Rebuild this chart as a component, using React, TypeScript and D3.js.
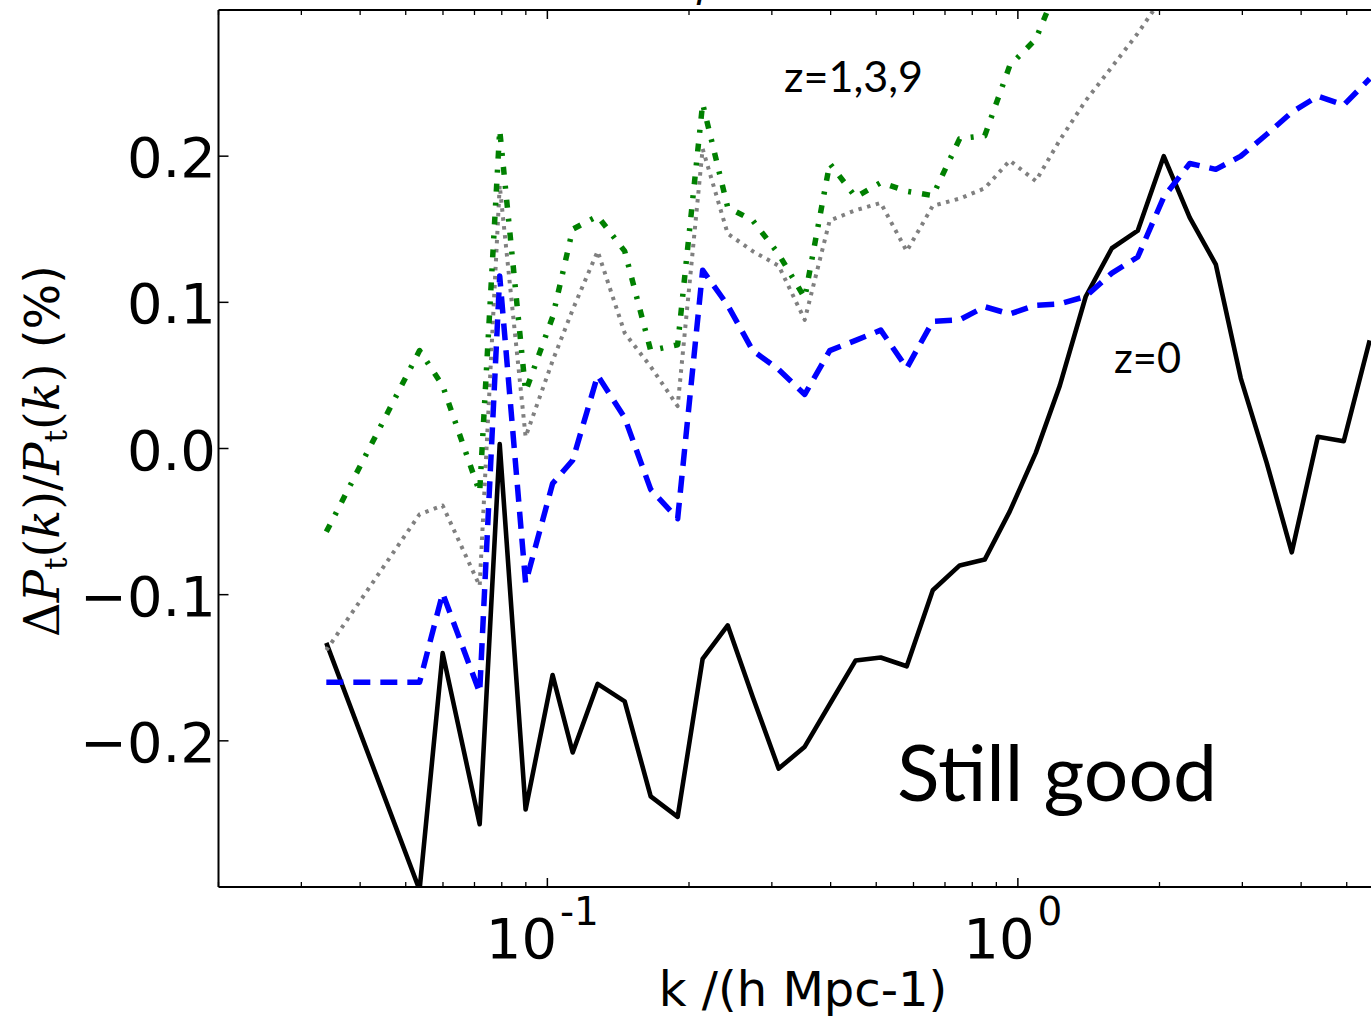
import React from 'react';
import * as d3 from 'd3';

// wavenumber grid k (h/Mpc)
const kValues = [0.0339, 0.0535, 0.0599, 0.0718, 0.0792, 0.0899, 0.1026, 0.1132, 0.1279, 0.146, 0.1658, 0.1892, 0.2138, 0.2417, 0.2732, 0.3102, 0.3524, 0.3982, 0.4521, 0.5112, 0.5805, 0.6594, 0.7522, 0.8503, 0.9612, 1.0915, 1.2278, 1.394, 1.584, 1.798, 2.042, 2.319, 2.634, 2.977, 3.381, 3.821, 4.34, 4.928, 5.595];

// z=0 (black solid)
const z0Values = [-0.133, -0.302, -0.14, -0.257, 0.003, -0.247, -0.155, -0.208, -0.161, -0.173, -0.238, -0.252, -0.144, -0.121, -0.17, -0.219, -0.204, -0.175, -0.145, -0.143, -0.149, -0.097, -0.08, -0.076, -0.043, -0.003, 0.043, 0.104, 0.137, 0.149, 0.2, 0.158, 0.126, 0.048, -0.01, -0.071, 0.008, 0.005, 0.074];
// z=1 (blue dashed)
const z1Values = [-0.16, -0.16, -0.099, -0.167, 0.118, -0.092, -0.024, -0.008, 0.05, 0.021, -0.028, -0.048, 0.122, 0.098, 0.067, 0.054, 0.037, 0.067, 0.074, 0.081, 0.055, 0.087, 0.088, 0.097, 0.092, 0.098, 0.099, 0.104, 0.12, 0.131, 0.172, 0.195, 0.191, 0.2, 0.215, 0.23, 0.241, 0.235, 0.253];
// z=3 (grey dotted)
const z3Values = [-0.138, -0.045, -0.039, -0.094, 0.18, 0.008, 0.06, 0.095, 0.135, 0.079, 0.056, 0.029, 0.205, 0.147, 0.135, 0.125, 0.088, 0.156, 0.163, 0.168, 0.135, 0.166, 0.171, 0.178, 0.197, 0.183, 0.211, 0.238, 0.261, 0.284, 0.31, 0.33];
// z=9 (green dash-dot)
const z9Values = [-0.057, 0.067, 0.043, -0.03, 0.218, 0.039, 0.09, 0.15, 0.159, 0.135, 0.067, 0.071, 0.236, 0.165, 0.156, 0.133, 0.103, 0.195, 0.172, 0.182, 0.176, 0.173, 0.212, 0.214, 0.262, 0.28, 0.32, 0.35];

const yTickValues = [-0.2, -0.1, 0.0, 0.1, 0.2];
const yTickLabels = ['\u22120.2', '\u22120.1', '0.0', '0.1', '0.2'];
const xMajorTicks = [0.1, 1];
const xMajorLabels = [['10', '-1'], ['10', '0']];

const W = 1371;
const H = 1021;
const left = 218.5;
const top = 10;
const bottom = 887;

export default function App() {
  const x = d3.scaleLog().domain([0.02, 10]).range([left, left + 470.5 * Math.log10(500)]);
  const y = d3.scaleLinear().domain([-0.3, 0.3]).range([bottom, top]);

  const line = d3
    .line<[number, number]>()
    .x((d) => x(d[0]))
    .y((d) => y(d[1]));

  const mk = (vals: number[]) => vals.map((v, i) => [kValues[i], v] as [number, number]);

  const minorTicks: number[] = [];
  [0.01, 0.1, 1].forEach((dec) => {
    for (let m = 2; m <= 9; m++) {
      const v = dec * m;
      if (v >= 0.02 && v < 10) minorTicks.push(v);
    }
  });

  const series = [
    { vals: z0Values, color: '#000000', width: 4.6, dash: undefined as string | undefined },
    { vals: z1Values, color: '#0000ff', width: 5.5, dash: '17,10' },
    { vals: z3Values, color: '#808080', width: 4, dash: '3.5,5.5' },
    { vals: z9Values, color: '#008000', width: 5.5, dash: '8,11,3,11' },
  ];

  return (
    <svg
      width={W}
      height={H}
      style={{ position: 'absolute', left: 0, top: 0, background: '#ffffff' }}
      xmlns="http://www.w3.org/2000/svg"
    >
      <rect x={0} y={0} width={W} height={H} fill="#ffffff" />
      <defs>
        <clipPath id="plotClip">
          <rect x={left} y={top} width={1400} height={bottom - top} />
        </clipPath>
      </defs>

      {/* partially visible title glyph (cut by the top edge as in the reference) */}
      <text x={697} y={-3} fontFamily="DejaVu Serif" fontStyle="italic" fontSize={40} fill="#000">
        ρ
      </text>

      <g clipPath="url(#plotClip)">
        {series.map((s, i) => (
          <path
            key={i}
            d={line(mk(s.vals)) || ''}
            fill="none"
            stroke={s.color}
            strokeWidth={s.width}
            strokeDasharray={s.dash}
            strokeLinejoin="round"
            strokeLinecap="butt"
          />
        ))}
      </g>

      {/* spines */}
      <line x1={left} x2={left} y1={top} y2={bottom} stroke="#000" strokeWidth={2} />
      <line x1={left} x2={W + 5} y1={bottom} y2={bottom} stroke="#000" strokeWidth={2} />
      <line x1={left} x2={W + 5} y1={top} y2={top} stroke="#000" strokeWidth={2} />

      {/* x ticks */}
      {xMajorTicks.map((t) => (
        <g key={'xM' + t}>
          <line x1={x(t)} x2={x(t)} y1={bottom} y2={bottom - 9} stroke="#000" strokeWidth={1.5} />
          <line x1={x(t)} x2={x(t)} y1={top} y2={top + 9} stroke="#000" strokeWidth={1.5} />
        </g>
      ))}
      {minorTicks.map((t) => (
        <g key={'xm' + t}>
          <line x1={x(t)} x2={x(t)} y1={bottom} y2={bottom - 5} stroke="#000" strokeWidth={1.3} />
          <line x1={x(t)} x2={x(t)} y1={top} y2={top + 5} stroke="#000" strokeWidth={1.3} />
        </g>
      ))}
      {xMajorTicks.map((t, i) => (
        <text
          key={'xl' + t}
          x={x(t) - 5}
          y={958}
          textAnchor="middle"
          fontFamily="DejaVu Sans"
          fontSize={56}
          fill="#000"
        >
          {xMajorLabels[i][0]}
          <tspan dx={3} dy={-33} fontSize={39}>
            {xMajorLabels[i][1]}
          </tspan>
        </text>
      ))}

      {/* y ticks */}
      {yTickValues.map((t, i) => (
        <g key={'y' + t}>
          <line x1={left} x2={left + 10} y1={y(t)} y2={y(t)} stroke="#000" strokeWidth={1.5} />
          <text
            x={216}
            y={y(t) + 21}
            textAnchor="end"
            fontFamily="DejaVu Sans"
            fontSize={56}
            fill="#000"
          >
            {yTickLabels[i]}
          </text>
        </g>
      ))}

      {/* axis labels */}
      <text x={803} y={1006} textAnchor="middle" fontFamily="DejaVu Sans" fontSize={48} fill="#000">
        k /(h Mpc-1)
      </text>
      <text transform="translate(59,451) rotate(-90)" textAnchor="middle" fontSize={48} fill="#000">
        <tspan fontFamily="DejaVu Serif">Δ</tspan>
        <tspan fontFamily="DejaVu Serif" fontStyle="italic">P</tspan>
        <tspan fontFamily="DejaVu Serif" fontSize={31} dy={8}>t</tspan>
        <tspan fontFamily="DejaVu Serif" dy={-8}>(</tspan>
        <tspan fontFamily="DejaVu Serif" fontStyle="italic">k</tspan>
        <tspan fontFamily="DejaVu Serif">)/</tspan>
        <tspan fontFamily="DejaVu Serif" fontStyle="italic">P</tspan>
        <tspan fontFamily="DejaVu Serif" fontSize={31} dy={8}>t</tspan>
        <tspan fontFamily="DejaVu Serif" dy={-8}>(</tspan>
        <tspan fontFamily="DejaVu Serif" fontStyle="italic">k</tspan>
        <tspan fontFamily="DejaVu Serif">)</tspan>
        <tspan fontFamily="DejaVu Sans">{' (%)'}</tspan>
      </text>

      {/* annotations */}
      <text x={784} y={92} fontFamily="Lato" fontSize={42} fill="#000" textLength={139} lengthAdjust="spacingAndGlyphs">
        z=1,3,9
      </text>
      <text x={1114} y={373} fontFamily="Lato" fontSize={42} fill="#000" textLength={67} lengthAdjust="spacingAndGlyphs">
        z=0
      </text>
      <text x={897} y={801} fontFamily="Lato" fontSize={77} fill="#000" textLength={320} lengthAdjust="spacingAndGlyphs">
        Still good
      </text>
    </svg>
  );
}
